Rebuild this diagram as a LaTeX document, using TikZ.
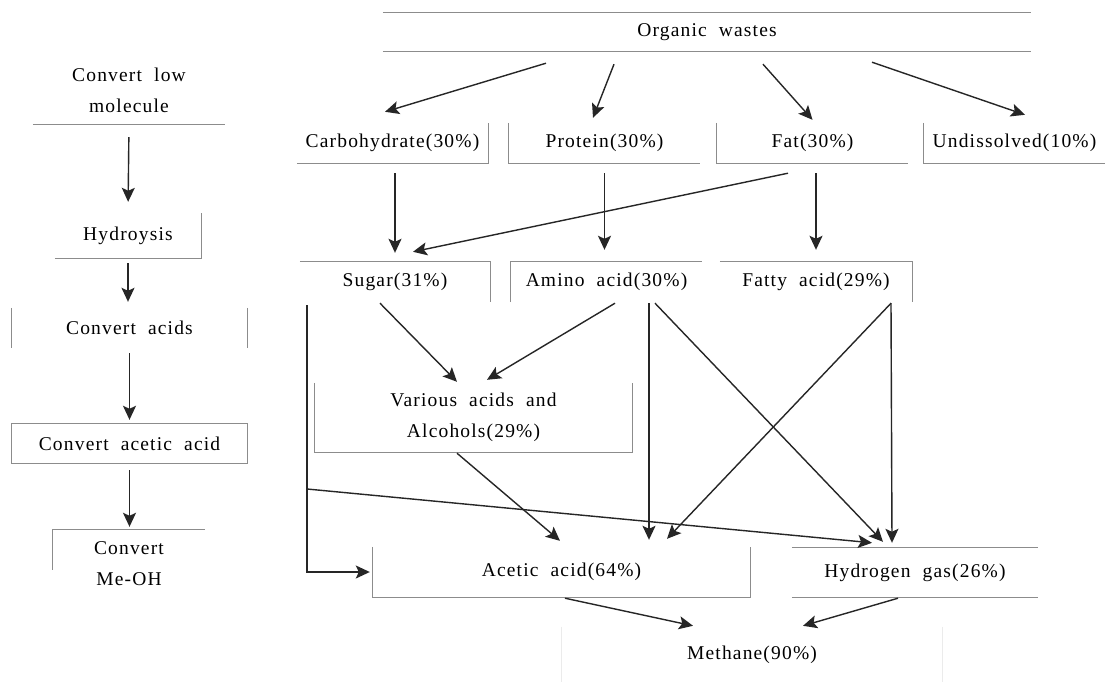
\documentclass[tikz,border=0pt]{standalone}
\usepackage{fontspec}
\setmainfont{Liberation Serif}[WordSpace=2,LetterSpace=6]
\usetikzlibrary{arrows.meta}

\begin{document}
\begin{tikzpicture}[x=1pt,y=-1pt,font=\fontsize{19.5}{31}\selectfont,
    box/.style={inner sep=0pt,align=center},
    rim/.style={draw=black!45,line width=1.1pt},
    faint/.style={draw=black!8,line width=0.8pt},
    arr/.style={draw=black!85,line width=1.4pt,-{Stealth[length=14pt,width=13pt,inset=3pt]}}]
      \fill[white] (0,0) rectangle (1111,681);
      \useasboundingbox (0,0) rectangle (1111,681);
      % left column
      \node[box,minimum width=192pt,minimum height=68pt] (clm) at (129,90) {Convert low\\molecule};
      \node[box,minimum width=146pt,minimum height=45pt] (hyd) at (128,235.5) {Hydroysis};
      \node[box,minimum width=235pt,minimum height=40pt] (cac) at (129.5,328) {Convert acids};
      \node[box,minimum width=235pt,minimum height=39pt] (caa) at (129.5,443.5) {Convert acetic acid};
      \node[box,minimum width=152pt,minimum height=68pt] (cmo) at (129,564) {Convert\\Me-OH};
      % right part
      \node[box,minimum width=648pt,minimum height=38pt] (ow) at (707,32) {Organic wastes};
      \node[box,minimum width=191pt,minimum height=40pt] (carb) at (392.5,143) {Carbohydrate(30\%)};
      \node[box,minimum width=191pt,minimum height=40pt] (prot) at (604.5,143) {Protein(30\%)};
      \node[box,minimum width=191pt,minimum height=40pt] (fat) at (812.5,143) {Fat(30\%)};
      \node[box,minimum width=181pt,minimum height=40pt] (und) at (1014.5,143) {Undissolved(10\%)};
      \node[box,minimum width=190pt,minimum height=40pt] (sugar) at (395,282) {Sugar(31\%)};
      \node[box,minimum width=191pt,minimum height=40pt] (amino) at (606.5,282) {Amino acid(30\%)};
      \node[box,minimum width=192pt,minimum height=40pt] (fatty) at (816,282) {Fatty acid(29\%)};
      \node[box,minimum width=317pt,minimum height=69pt] (var) at (473.5,417.5) {Various acids and\\Alcohols(29\%)};
      \node[box,minimum width=377pt,minimum height=50pt] (acet) at (561.5,572) {Acetic acid(64\%)};
      \node[box,minimum width=246pt,minimum height=49pt] (hydg) at (915,572.5) {Hydrogen gas(26\%)};
      \node[box,minimum width=380pt,minimum height=56pt] (meth) at (752,655) {Methane(90\%)};
      \coordinate (fork) at (307,489);

      % box edges, as far as they show
      \draw[rim] (clm.south west) -- (clm.south east);
      \draw[rim] (hyd.south west) -- (hyd.south east) -- (hyd.north east);
      \draw[rim] (cac.north west) -- (cac.south west) (cac.north east) -- (cac.south east);
      \draw[rim] (caa.north west) rectangle (caa.south east);
      \draw[rim] ([yshift=-40pt]cmo.north west) -- (cmo.north west) -- (cmo.north east);
      \draw[rim] (ow.north west) -- (ow.north east) (ow.south west) -- (ow.south east);
      \draw[rim] (carb.south west) -- (carb.south east) -- (carb.north east);
      \draw[rim] (prot.north west) -- (prot.south west) -- (prot.south east);
      \draw[rim] (fat.north west) -- (fat.south west) -- (fat.south east);
      \draw[rim] (und.north west) -- (und.south west) -- (und.south east);
      \draw[rim] (sugar.north west) -- (sugar.north east) -- (sugar.south east);
      \draw[rim] (amino.south west) -- (amino.north west) -- (amino.north east);
      \draw[rim] (fatty.north west) -- (fatty.north east) -- (fatty.south east);
      \draw[rim] (var.north west) -- (var.south west) -- (var.south east) -- (var.north east);
      \draw[rim] (acet.north west) -- (acet.south west) -- (acet.south east) -- (acet.north east);
      \draw[rim] (hydg.north west) -- (hydg.north east) (hydg.south west) -- (hydg.south east);
      \draw[faint] (meth.north west) -- (meth.south west) (meth.north east) -- (meth.south east);

      % left column arrows
      \draw[arr,shorten <=13pt,shorten >=11pt] (clm.south) -- (hyd.north);
      \draw[arr,shorten <=5pt,shorten >=6pt] (hyd.south) -- (hyd.south |- cac.north);
      \draw[arr,shorten <=5pt,shorten >=4pt] (cac.south) -- (caa.north);
      \draw[arr,shorten <=7pt,shorten >=3pt] (caa.south) -- (caa.south |- cmo.north);

      % organic wastes
      \draw[arr] ([xshift=-161pt,yshift=-12pt]ow.south) -- ([xshift=-7.5pt,yshift=11pt]carb.north);
      \draw[arr] ([xshift=-93pt,yshift=-13pt]ow.south) -- ([xshift=-11.5pt,yshift=5pt]prot.north);
      \draw[arr] ([xshift=56pt,yshift=-13pt]ow.south) -- ([yshift=3pt]fat.north);
      \draw[arr] ([xshift=165pt,yshift=-11pt]ow.south) -- ([xshift=10.5pt,yshift=8pt]und.north);

      % second row
      \draw[arr,shorten <=10pt,shorten >=9pt] (carb.south -| sugar.north) -- (sugar.north);
      \draw[arr,shorten <=10pt,shorten >=12pt] (prot.south) -- (prot.south |- amino.north);
      \draw[arr] ([xshift=-24.5pt,yshift=-10pt]fat.south) -- ([xshift=18pt,yshift=10pt]sugar.north);
      \draw[arr,shorten <=10pt,shorten >=12pt] (fatty.north |- fat.south) -- (fatty.north);

      % third row and below
      \draw[arr] ([xshift=-15pt,yshift=-1pt]sugar.south) -- ([xshift=-16.5pt,yshift=1pt]var.north);
      \draw[arr] ([xshift=8.5pt,yshift=-1pt]amino.south) -- ([xshift=13.5pt,yshift=3pt]var.north);
      \draw[arr] ([xshift=-88pt,yshift=-3pt]sugar.south) |- ([xshift=-3pt]acet.west);
      \draw[arr] (fork) -- ([xshift=-43pt,yshift=5pt]hydg.north);
      \draw[arr] ([xshift=42.5pt,yshift=-1pt]amino.south) -- ([xshift=87.5pt,yshift=7pt]acet.north);
      \draw[arr] ([xshift=48.5pt,yshift=-1pt]amino.south) -- ([xshift=-32pt,yshift=6pt]hydg.north);
      \draw[arr] ([xshift=75pt,yshift=-1pt]fatty.south) -- ([xshift=105.5pt,yshift=8pt]acet.north);
      \draw[arr] ([xshift=75pt,yshift=-1pt]fatty.south) -- ([xshift=-23pt,yshift=5pt]hydg.north);
      \draw[arr] ([xshift=-16.5pt,yshift=-1pt]var.south) -- ([xshift=-1.5pt,yshift=6pt]acet.north);
      \draw[arr] ([xshift=3.5pt,yshift=-1pt]acet.south) -- ([xshift=-59pt,yshift=1pt]meth.north);
      \draw[arr] ([xshift=-17pt,yshift=-1pt]hydg.south) -- ([xshift=51pt,yshift=1pt]meth.north);
    \end{tikzpicture}
\end{document}
